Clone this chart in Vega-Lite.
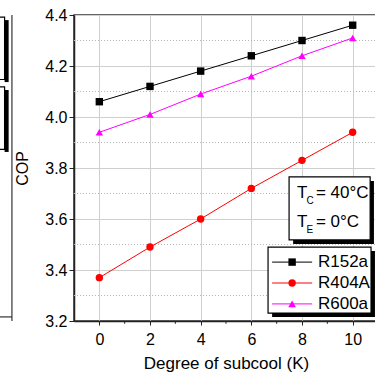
{
  "$schema": "https://vega.github.io/schema/vega-lite/v6.json",
  "width": 304,
  "height": 306,
  "autosize": {"type": "none"},
  "padding": {"left": 74, "top": 15, "right": 0, "bottom": 54},
  "background": "white",
  "config": {
    "font": "Liberation Sans",
    "view": {"stroke": "#333", "strokeWidth": 1.5},
    "axis": {
      "domainColor": "#222",
      "domainWidth": 1.5,
      "tickColor": "#222",
      "labelColor": "black",
      "titleColor": "black",
      "labelFontSize": 16,
      "titleFontSize": 16,
      "titleFontWeight": "normal",
      "gridColor": "#cfcfcf",
      "gridWidth": 1
    }
  },
  "datasets": {
    "cop": [
      {"subcool": 0, "refrigerant": "R152a", "cop": 4.06},
      {"subcool": 2, "refrigerant": "R152a", "cop": 4.12},
      {"subcool": 4, "refrigerant": "R152a", "cop": 4.18},
      {"subcool": 6, "refrigerant": "R152a", "cop": 4.24},
      {"subcool": 8, "refrigerant": "R152a", "cop": 4.30},
      {"subcool": 10, "refrigerant": "R152a", "cop": 4.36},
      {"subcool": 0, "refrigerant": "R404A", "cop": 3.37},
      {"subcool": 2, "refrigerant": "R404A", "cop": 3.49},
      {"subcool": 4, "refrigerant": "R404A", "cop": 3.60},
      {"subcool": 6, "refrigerant": "R404A", "cop": 3.72},
      {"subcool": 8, "refrigerant": "R404A", "cop": 3.83},
      {"subcool": 10, "refrigerant": "R404A", "cop": 3.94},
      {"subcool": 0, "refrigerant": "R600a", "cop": 3.94},
      {"subcool": 2, "refrigerant": "R600a", "cop": 4.01},
      {"subcool": 4, "refrigerant": "R600a", "cop": 4.09},
      {"subcool": 6, "refrigerant": "R600a", "cop": 4.16},
      {"subcool": 8, "refrigerant": "R600a", "cop": 4.24},
      {"subcool": 10, "refrigerant": "R600a", "cop": 4.31}
    ],
    "minor": [{"cop": 3.3}, {"cop": 3.5}, {"cop": 3.7}, {"cop": 3.9}, {"cop": 4.1}, {"cop": 4.3}],
    "minorx": [{"subcool": 1}, {"subcool": 3}, {"subcool": 5}, {"subcool": 7}, {"subcool": 9}],
    "one": [{}]
  },
  "layer": [
    {
      "data": {"name": "minor"},
      "mark": {"type": "rule", "color": "#b5b5b5", "strokeDash": [1, 2], "strokeWidth": 1},
      "encoding": {
        "y": {"field": "cop", "type": "quantitative", "scale": {"domain": [3.2, 4.4]},
              "axis": {"title": "COP", "values": [3.2, 3.4, 3.6, 3.8, 4.0, 4.2, 4.4], "format": ".1f", "tickSize": 5, "labelPadding": 2, "titlePadding": 14}}
      }
    },
    {
      "data": {"name": "minorx"},
      "mark": {"type": "rule", "color": "#222", "strokeWidth": 1},
      "encoding": {
        "x": {"field": "subcool", "type": "quantitative"},
        "y": {"datum": 3.2, "type": "quantitative"},
        "y2": {"datum": 3.189}
      }
    },
    {
      "data": {"name": "cop"},
      "mark": {"type": "line", "strokeWidth": 1},
      "encoding": {
        "x": {"field": "subcool", "type": "quantitative", "scale": {"domain": [-1, 11]},
              "axis": {"title": "Degree of subcool (K)", "values": [0, 2, 4, 6, 8, 10], "tickSize": 4, "labelPadding": 6, "titlePadding": 8, "titleFontSize": 17}},
        "y": {"field": "cop", "type": "quantitative", "scale": {"domain": [3.2, 4.4]},
              "axis": {"title": "COP", "values": [3.2, 3.4, 3.6, 3.8, 4.0, 4.2, 4.4], "format": ".1f", "tickSize": 5, "labelPadding": 2, "titlePadding": 14}},
        "color": {"field": "refrigerant", "type": "nominal",
                  "scale": {"domain": ["R152a", "R404A", "R600a"], "range": ["#000000", "#ff0000", "#ff00ff"]},
                  "legend": null}
      }
    },
    {
      "data": {"name": "cop"},
      "mark": {"type": "point", "filled": true, "opacity": 1, "size": 55},
      "encoding": {
        "x": {"field": "subcool", "type": "quantitative"},
        "y": {"field": "cop", "type": "quantitative"},
        "color": {"field": "refrigerant", "type": "nominal", "legend": null},
        "shape": {"field": "refrigerant", "type": "nominal",
                  "scale": {"domain": ["R152a", "R404A", "R600a"], "range": ["square", "circle", "triangle-up"]},
                  "legend": null}
      }
    },
    {
      "data": {"name": "one"},
      "mark": {"type": "rule", "color": "#333", "strokeWidth": 1.2},
      "encoding": {"x": {"datum": -3.45, "type": "quantitative"}, "y": {"datum": 4.4, "type": "quantitative"}, "y2": {"datum": 3.2}}
    },
    {
      "data": {"name": "one"},
      "mark": {"type": "rule", "color": "#333", "strokeWidth": 1.2},
      "encoding": {"x": {"datum": -4.0, "type": "quantitative"}, "x2": {"datum": -3.45}, "y": {"datum": 3.216, "type": "quantitative"}}
    },
    {
      "data": {"name": "one"},
      "mark": {"type": "rect", "color": "black"},
      "encoding": {
        "x": {"datum": -3.74, "type": "quantitative"}, "x2": {"datum": -3.58},
        "y": {"datum": 4.38, "type": "quantitative"}, "y2": {"datum": 4.137}
      }
    },
    {
      "data": {"name": "one"},
      "mark": {"type": "rect", "fill": "white", "stroke": "black", "strokeWidth": 1.2},
      "encoding": {
        "x": {"datum": -4.2, "type": "quantitative"}, "x2": {"datum": -3.74},
        "y": {"datum": 4.392, "type": "quantitative"}, "y2": {"datum": 4.147}
      }
    },
    {
      "data": {"name": "one"},
      "mark": {"type": "rect", "color": "black"},
      "encoding": {
        "x": {"datum": -3.74, "type": "quantitative"}, "x2": {"datum": -3.58},
        "y": {"datum": 4.106, "type": "quantitative"}, "y2": {"datum": 3.863}
      }
    },
    {
      "data": {"name": "one"},
      "mark": {"type": "rect", "fill": "white", "stroke": "black", "strokeWidth": 1.2},
      "encoding": {
        "x": {"datum": -4.2, "type": "quantitative"}, "x2": {"datum": -3.74},
        "y": {"datum": 4.118, "type": "quantitative"}, "y2": {"datum": 3.873}
      }
    },
    {
      "data": {"name": "one"},
      "mark": {"type": "rect", "color": "black"},
      "encoding": {
        "x": {"datum": 7.65, "type": "quantitative"}, "x2": {"datum": 10.84},
        "y": {"datum": 3.749, "type": "quantitative"}, "y2": {"datum": 3.502}
      }
    },
    {
      "data": {"name": "one"},
      "mark": {"type": "rect", "fill": "white", "stroke": "black", "strokeWidth": 1.2},
      "encoding": {
        "x": {"datum": 7.49, "type": "quantitative"}, "x2": {"datum": 10.69},
        "y": {"datum": 3.765, "type": "quantitative"}, "y2": {"datum": 3.518}
      }
    },
    {
      "data": {"name": "one"},
      "mark": {"type": "text", "text": "T", "fontSize": 17, "align": "left", "baseline": "middle", "color": "black"},
      "encoding": {"x": {"datum": 7.80, "type": "quantitative"}, "y": {"datum": 3.702, "type": "quantitative"}}
    },
    {
      "data": {"name": "one"},
      "mark": {"type": "text", "text": "C", "fontSize": 10, "align": "left", "baseline": "middle", "color": "black"},
      "encoding": {"x": {"datum": 8.18, "type": "quantitative"}, "y": {"datum": 3.672, "type": "quantitative"}}
    },
    {
      "data": {"name": "one"},
      "mark": {"type": "text", "text": "= 40°C", "fontSize": 17, "align": "left", "baseline": "middle", "color": "black"},
      "encoding": {"x": {"datum": 8.55, "type": "quantitative"}, "y": {"datum": 3.702, "type": "quantitative"}}
    },
    {
      "data": {"name": "one"},
      "mark": {"type": "text", "text": "T", "fontSize": 17, "align": "left", "baseline": "middle", "color": "black"},
      "encoding": {"x": {"datum": 7.80, "type": "quantitative"}, "y": {"datum": 3.588, "type": "quantitative"}}
    },
    {
      "data": {"name": "one"},
      "mark": {"type": "text", "text": "E", "fontSize": 10, "align": "left", "baseline": "middle", "color": "black"},
      "encoding": {"x": {"datum": 8.18, "type": "quantitative"}, "y": {"datum": 3.558, "type": "quantitative"}}
    },
    {
      "data": {"name": "one"},
      "mark": {"type": "text", "text": "= 0°C", "fontSize": 17, "align": "left", "baseline": "middle", "color": "black"},
      "encoding": {"x": {"datum": 8.55, "type": "quantitative"}, "y": {"datum": 3.588, "type": "quantitative"}}
    },
    {
      "data": {"name": "one"},
      "mark": {"type": "rect", "color": "black"},
      "encoding": {
        "x": {"datum": 6.82, "type": "quantitative"}, "x2": {"datum": 10.88},
        "y": {"datum": 3.475, "type": "quantitative"}, "y2": {"datum": 3.216}
      }
    },
    {
      "data": {"name": "one"},
      "mark": {"type": "rect", "fill": "white", "stroke": "black", "strokeWidth": 1.2},
      "encoding": {
        "x": {"datum": 6.66, "type": "quantitative"}, "x2": {"datum": 10.725},
        "y": {"datum": 3.490, "type": "quantitative"}, "y2": {"datum": 3.231}
      }
    },
    {
      "data": {"name": "one"},
      "mark": {"type": "rule", "color": "black", "strokeWidth": 1},
      "encoding": {"x": {"datum": 6.82, "type": "quantitative"}, "x2": {"datum": 8.40}, "y": {"datum": 3.431, "type": "quantitative"}}
    },
    {
      "data": {"name": "one"},
      "mark": {"type": "point", "shape": "square", "filled": true, "opacity": 1, "size": 55, "color": "black"},
      "encoding": {"x": {"datum": 7.61, "type": "quantitative"}, "y": {"datum": 3.431, "type": "quantitative"}}
    },
    {
      "data": {"name": "one"},
      "mark": {"type": "text", "text": "R152a", "fontSize": 17, "align": "left", "baseline": "middle", "color": "black"},
      "encoding": {"x": {"datum": 8.63, "type": "quantitative"}, "y": {"datum": 3.431, "type": "quantitative"}}
    },
    {
      "data": {"name": "one"},
      "mark": {"type": "rule", "color": "#ff0000", "strokeWidth": 1},
      "encoding": {"x": {"datum": 6.82, "type": "quantitative"}, "x2": {"datum": 8.40}, "y": {"datum": 3.349, "type": "quantitative"}}
    },
    {
      "data": {"name": "one"},
      "mark": {"type": "point", "shape": "circle", "filled": true, "opacity": 1, "size": 55, "color": "#ff0000"},
      "encoding": {"x": {"datum": 7.61, "type": "quantitative"}, "y": {"datum": 3.349, "type": "quantitative"}}
    },
    {
      "data": {"name": "one"},
      "mark": {"type": "text", "text": "R404A", "fontSize": 17, "align": "left", "baseline": "middle", "color": "black"},
      "encoding": {"x": {"datum": 8.63, "type": "quantitative"}, "y": {"datum": 3.349, "type": "quantitative"}}
    },
    {
      "data": {"name": "one"},
      "mark": {"type": "rule", "color": "#ff00ff", "strokeWidth": 1},
      "encoding": {"x": {"datum": 6.82, "type": "quantitative"}, "x2": {"datum": 8.40}, "y": {"datum": 3.267, "type": "quantitative"}}
    },
    {
      "data": {"name": "one"},
      "mark": {"type": "point", "shape": "triangle-up", "filled": true, "opacity": 1, "size": 60, "color": "#ff00ff"},
      "encoding": {"x": {"datum": 7.61, "type": "quantitative"}, "y": {"datum": 3.267, "type": "quantitative"}}
    },
    {
      "data": {"name": "one"},
      "mark": {"type": "text", "text": "R600a", "fontSize": 17, "align": "left", "baseline": "middle", "color": "black"},
      "encoding": {"x": {"datum": 8.63, "type": "quantitative"}, "y": {"datum": 3.267, "type": "quantitative"}}
    }
  ]
}
